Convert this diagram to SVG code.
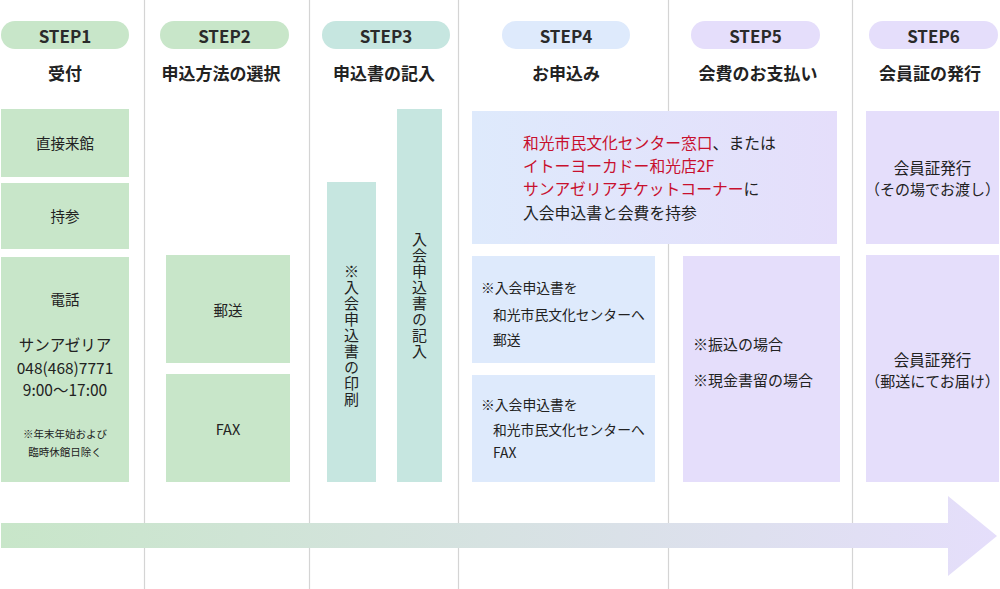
<svg xmlns="http://www.w3.org/2000/svg" width="1000" height="589" viewBox="0 0 1000 589">
<style>
text{font-family:"Noto Sans CJK JP","Noto Sans",sans-serif;fill:#222;dominant-baseline:central}
.c{text-anchor:middle}
.step{font-size:17px;font-weight:700;text-anchor:middle;fill:#2a2a2a}
.title{font-size:17px;font-weight:700;text-anchor:middle;fill:#222}
.g{fill:#c8e6c9}
.t{fill:#c6e6e0}
.b{fill:#deeafc}
.p{fill:#e5defb}
.div{stroke:#d4d4d4;stroke-width:1.2}
.red{fill:#c8102e}
.v{writing-mode:tb;text-anchor:middle;font-size:15px;letter-spacing:1px}
</style>
<defs>
<linearGradient id="ag" x1="0" y1="0" x2="1" y2="0">
<stop offset="0" stop-color="#c8e6c9"/>
<stop offset="1" stop-color="#e5defb"/>
</linearGradient>
<linearGradient id="s4" x1="0" y1="0" x2="1" y2="0">
<stop offset="0" stop-color="#deeafc"/>
<stop offset="1" stop-color="#e5defb"/>
</linearGradient>
</defs>
<rect width="1000" height="589" fill="#fff"/>
<g id="dividers">
<line class="div" x1="144.5" y1="0" x2="144.5" y2="589"/>
<line class="div" x1="309.5" y1="0" x2="309.5" y2="589"/>
<line class="div" x1="458.5" y1="0" x2="458.5" y2="589"/>
<line class="div" x1="668.5" y1="0" x2="668.5" y2="589"/>
<line class="div" x1="852.5" y1="0" x2="852.5" y2="589"/>
</g>
<g id="headers">
<rect class="g" x="1" y="21" width="128" height="28" rx="14"/><text class="step" x="65" y="35">STEP1</text><text class="title" x="65" y="72">受付</text>
<rect class="g" x="160" y="21" width="129" height="28" rx="14"/><text class="step" x="224.5" y="35">STEP2</text><text class="title" x="221" y="72">申込方法の選択</text>
<rect class="t" x="322" y="21" width="128" height="28" rx="14"/><text class="step" x="386" y="35">STEP3</text><text class="title" x="384" y="72">申込書の記入</text>
<rect class="b" x="502" y="21" width="128" height="28" rx="14"/><text class="step" x="566" y="35">STEP4</text><text class="title" x="566" y="72">お申込み</text>
<rect class="p" x="691" y="21" width="129" height="28" rx="14"/><text class="step" x="755.5" y="35">STEP5</text><text class="title" x="758" y="72">会費のお支払い</text>
<rect class="p" x="869" y="21" width="129" height="28" rx="14"/><text class="step" x="933.5" y="35">STEP6</text><text class="title" x="930" y="72">会員証の発行</text>
</g>
<g id="step1">
<g id="s1-visit"><rect class="g" x="1" y="109" width="128" height="68"/><text class="c" x="65" y="142" font-size="14.5">直接来館</text></g>
<g id="s1-bring"><rect class="g" x="1" y="183" width="128" height="66"/><text class="c" x="65" y="215" font-size="14.5">持参</text></g>
<g id="s1-phone"><rect class="g" x="1" y="257" width="128" height="225"/>
<text class="c" x="65" y="298" font-size="14.5">電話</text>
<text class="c" x="65" y="344" font-size="15.5">サンアゼリア</text>
<text class="c" x="65" y="367" font-size="15.5">048(468)7771</text>
<text class="c" x="65" y="389" font-size="15.5">9:00～17:00</text>
<text class="c" x="65" y="433" font-size="10.5">※年末年始および</text>
<text class="c" x="65" y="451" font-size="10.5">臨時休館日除く</text>
</g>
</g>
<g id="step2">
<g id="s2-mail"><rect class="g" x="166" y="255" width="124" height="108"/><text class="c" x="228" y="309" font-size="14.5">郵送</text></g>
<g id="s2-fax"><rect class="g" x="166" y="374" width="124" height="108"/><text class="c" x="228" y="428" font-size="14.5">FAX</text></g>
</g>
<g id="step3">
<g id="s3-print"><rect class="t" x="327" y="182" width="49" height="300"/><text class="v" x="351.5" y="336">※入会申込書の印刷</text></g>
<g id="s3-fill"><rect class="t" x="397" y="109" width="45" height="373"/><text class="v" x="419.5" y="296">入会申込書の記入</text></g>
</g>
<g id="step4">
<g id="s4-counter"><rect fill="url(#s4)" x="472" y="111" width="365" height="133"/>
<text x="523" y="142" font-size="15.8"><tspan class="red">和光市民文化センター窓口</tspan>、または</text>
<text x="523" y="165" font-size="15.8" class="red">イトーヨーカドー和光店2F</text>
<text x="523" y="188" font-size="15.8"><tspan class="red">サンアゼリアチケットコーナー</tspan>に</text>
<text x="523" y="212" font-size="15.8">入会申込書と会費を持参</text>
</g>
<g id="s4-mail"><rect class="b" x="472" y="256" width="183" height="107"/>
<text x="481" y="287" font-size="13.8">※入会申込書を</text>
<text x="493" y="314" font-size="13.8">和光市民文化センターへ</text>
<text x="493" y="339" font-size="13.8">郵送</text>
</g>
<g id="s4-fax"><rect class="b" x="472" y="375" width="183" height="107"/>
<text x="481" y="404" font-size="13.8">※入会申込書を</text>
<text x="493" y="429" font-size="13.8">和光市民文化センターへ</text>
<text x="493" y="452" font-size="13.8">FAX</text>
</g>
</g>
<g id="step5">
<g id="s5-pay"><rect class="p" x="683" y="256" width="157" height="226"/>
<text x="693" y="343" font-size="15">※振込の場合</text>
<text x="693" y="379" font-size="15">※現金書留の場合</text>
</g>
</g>
<g id="step6">
<g id="s6-hand"><rect class="p" x="866" y="111" width="133" height="133"/>
<text class="c" x="932.5" y="167" font-size="15.5">会員証発行</text>
<text class="c" x="932.5" y="188" font-size="15">（その場でお渡し）</text>
</g>
<g id="s6-post"><rect class="p" x="866" y="255" width="133" height="227"/>
<text class="c" x="932.5" y="359" font-size="15.5">会員証発行</text>
<text class="c" x="932.5" y="380" font-size="15">（郵送にてお届け）</text>
</g>
</g>
<g id="connectors">
<polygon fill="url(#ag)" points="1,523 948,523 948,496 997,536 948,576 948,548 1,548"/>
</g>
</svg>
